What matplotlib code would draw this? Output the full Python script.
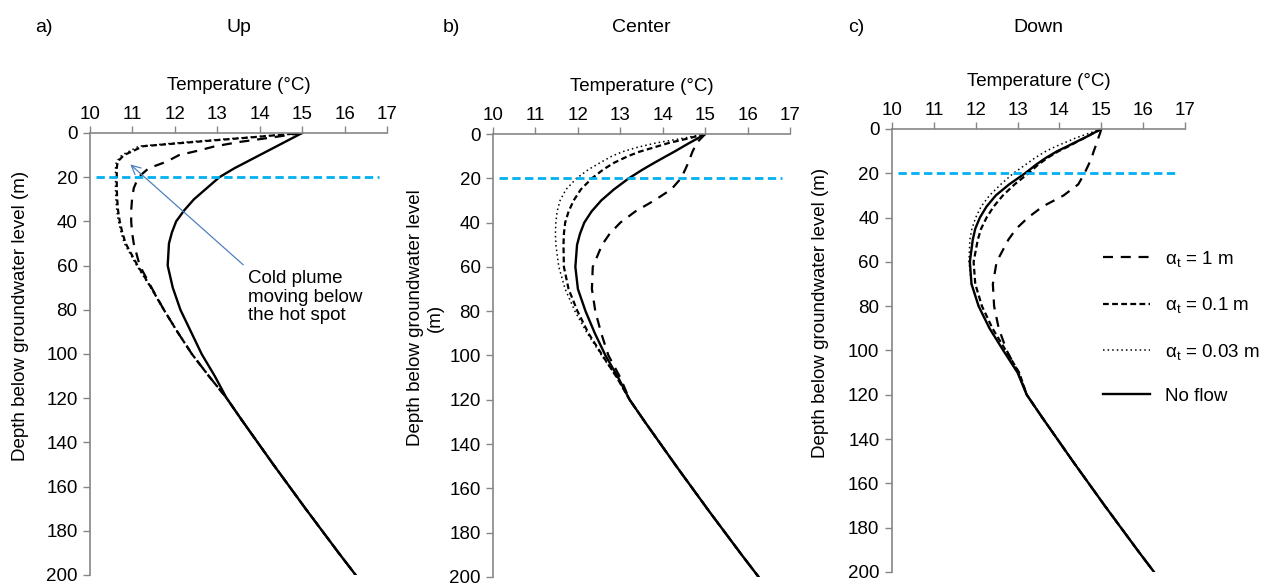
import numpy as np
import matplotlib
matplotlib.use('Agg')
import matplotlib.pyplot as plt

plt.rcParams['font.family'] = ['Liberation Sans', 'DejaVu Sans']
plt.rcParams['mathtext.fontset'] = 'custom'
plt.rcParams['mathtext.rm'] = 'Liberation Sans'
plt.rcParams['mathtext.it'] = 'Liberation Sans:italic'

# depth below groundwater level (m)
depth_top = [0, 2, 4, 6, 8, 10, 13, 16, 20, 25, 30, 35, 40, 45, 50, 60, 70, 80, 90, 100, 110]
depth_deep = [120, 130, 140, 150, 160, 170, 180, 190, 200]
# all profiles merge into the same gradient below ~115 m
deep_T = [13.22, 13.58, 13.95, 14.32, 14.7, 15.08, 15.47, 15.86, 16.26]

# temperature (degC) for the upper part, per panel and per case
up_1m = [15.0, 14.3, 13.55, 12.95, 12.55, 12.1, 11.8, 11.38, 11.14, 11.03, 10.99, 10.97, 10.97, 10.99, 11.03, 11.17, 11.45, 11.74, 12.06, 12.4, 12.8]
up_01m = [15.0, 13.8, 12.5, 11.25, 11.03, 10.8, 10.65, 10.63, 10.63, 10.63, 10.64, 10.66, 10.7, 10.76, 10.84, 11.12, 11.44, 11.74, 12.06, 12.4, 12.8]
up_003m = [15.0, 13.7, 12.35, 11.15, 10.95, 10.75, 10.62, 10.6, 10.6, 10.6, 10.61, 10.63, 10.67, 10.73, 10.81, 11.1, 11.43, 11.74, 12.06, 12.4, 12.8]
up_noflow = [15.0, 14.8, 14.6, 14.4, 14.2, 14.0, 13.7, 13.4, 13.05, 12.75, 12.45, 12.22, 12.03, 11.93, 11.86, 11.83, 11.95, 12.13, 12.38, 12.63, 12.94]

center_1m = [15.0, 14.9, 14.8, 14.75, 14.7, 14.66, 14.6, 14.53, 14.43, 14.2, 13.8, 13.35, 13.0, 12.75, 12.57, 12.35, 12.33, 12.41, 12.55, 12.72, 13.0]
center_01m = [15.0, 14.6, 14.15, 13.8, 13.45, 13.18, 12.85, 12.6, 12.33, 12.07, 11.9, 11.78, 11.7, 11.67, 11.66, 11.67, 11.78, 11.99, 12.25, 12.58, 12.92]
center_003m = [15.0, 14.45, 13.85, 13.4, 13.05, 12.8, 12.52, 12.25, 11.97, 11.72, 11.58, 11.51, 11.48, 11.47, 11.48, 11.55, 11.7, 11.93, 12.22, 12.56, 12.92]
center_noflow = [15.0, 14.82, 14.63, 14.45, 14.27, 14.08, 13.8, 13.53, 13.2, 12.85, 12.55, 12.32, 12.15, 12.05, 11.98, 11.94, 12.0, 12.18, 12.4, 12.65, 12.95]

down_1m = [15.0, 14.97, 14.93, 14.9, 14.86, 14.82, 14.77, 14.7, 14.6, 14.45, 14.1, 13.6, 13.25, 12.97, 12.78, 12.5, 12.41, 12.44, 12.55, 12.74, 13.02]
down_01m = [15.0, 14.8, 14.6, 14.4, 14.2, 13.98, 13.72, 13.5, 13.26, 12.93, 12.65, 12.43, 12.26, 12.13, 12.05, 11.95, 11.99, 12.15, 12.4, 12.72, 13.04]
down_003m = [15.0, 14.7, 14.4, 14.15, 13.9, 13.68, 13.42, 13.2, 12.9, 12.6, 12.33, 12.13, 12.0, 11.91, 11.86, 11.84, 11.9, 12.07, 12.33, 12.66, 13.0]
down_noflow = [15.0, 14.8, 14.6, 14.38, 14.17, 13.95, 13.68, 13.45, 13.18, 12.8, 12.48, 12.26, 12.1, 11.99, 11.93, 11.86, 11.9, 12.07, 12.33, 12.66, 13.0]

case_labels = [r'$\mathregular{\alpha_t}$ = 1 m', r'$\mathregular{\alpha_t}$ = 0.1 m',
               r'$\mathregular{\alpha_t}$ = 0.03 m', 'No flow']
panel_titles = ['Up', 'Center', 'Down']
panel_letters = ['a)', 'b)', 'c)']
water_level = 20

styles = [dict(lw=1.6, dashes=(4.5, 3.5)),
          dict(lw=1.6, dashes=(2.6, 1.5)),
          dict(lw=1.1, dashes=(1, 2)),
          dict(lw=1.7, ls='-')]

panels = [[up_1m, up_01m, up_003m, up_noflow],
          [center_1m, center_01m, center_003m, center_noflow],
          [down_1m, down_01m, down_003m, down_noflow]]

positions = [[0.0704, 0.0188, 0.2322, 0.7543],
             [0.3855, 0.0154, 0.2322, 0.7559],
             [0.6974, 0.0239, 0.2291, 0.7560]]
letter_x = [35 / 1279, 443 / 1279, 848 / 1279]
ylabels = ['Depth below groundwater level (m)',
           'Depth below groundwater level\n(m)',
           'Depth below groundwater level (m)']
ylabel_x = [-0.205, -0.165, -0.215]

fs = 13.5
axis_col = '#868686'
fig = plt.figure(figsize=(12.79, 5.86), dpi=100)

for i in range(3):
    ax = fig.add_axes(positions[i])
    depth = depth_top + depth_deep
    for j in range(4):
        temp = panels[i][j] + deep_T
        ax.plot(temp, depth, color='black', label=case_labels[j], **styles[j])
    ax.hlines(water_level, 10.15, 16.8, color='#00B0F0', lw=2, linestyles=(0, (3, 1.6)))

    ax.set_xlim(10, 17)
    ax.set_ylim(200, 0)
    ax.set_xticks(range(10, 18))
    ax.set_yticks(range(0, 201, 20))
    ax.xaxis.tick_top()
    ax.xaxis.set_label_position('top')
    ax.set_xlabel('Temperature (°C)', fontsize=fs, labelpad=12)
    ax.set_ylabel(ylabels[i], fontsize=fs, multialignment='center')
    ax.yaxis.set_label_coords(ylabel_x[i], 0.585)
    ax.tick_params(axis='x', direction='out', length=5, width=1, color=axis_col, labelsize=fs, pad=2)
    ax.tick_params(axis='y', direction='out', length=5, width=1, color=axis_col, labelsize=fs, pad=4)
    for side in ['right', 'bottom']:
        ax.spines[side].set_visible(False)
    for side in ['left', 'top']:
        ax.spines[side].set_color(axis_col)
        ax.spines[side].set_linewidth(1.2)

    pos = ax.get_position()
    fig.text(pos.x0 + pos.width / 2, 1 - 27 / 586, panel_titles[i], fontsize=14, ha='center', va='center')
    fig.text(letter_x[i], 1 - 27 / 586, panel_letters[i], fontsize=14, ha='left', va='center')

    if i == 0:
        ax.annotate('', xy=(10.9, 13.4), xytext=(13.66, 60.5),
                    arrowprops=dict(arrowstyle='->', color='#4F81BD', lw=0.9, mutation_scale=16))
        ax.text(13.72, 62, 'Cold plume\nmoving below\nthe hot spot', fontsize=fs,
                ha='left', va='top', linespacing=1.12)
    if i == 2:
        ax.legend(loc='upper left', bbox_to_anchor=(1103 / 1279, 1 - 249 / 586),
                  bbox_transform=fig.transFigure, frameon=False, fontsize=fs,
                  handlelength=2.5, handletextpad=0.8, labelspacing=1.4, borderpad=0,
                  borderaxespad=0)

fig.savefig('out.png', dpi=100)
